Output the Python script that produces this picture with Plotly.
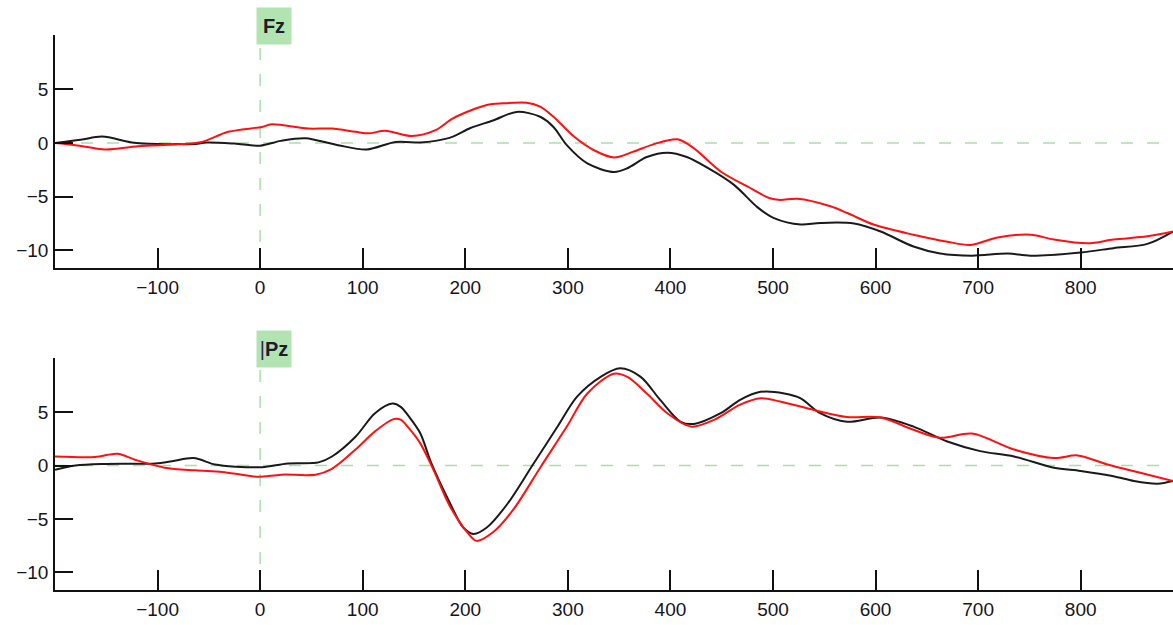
import plotly.graph_objects as go

# ---- Data (time in ms, amplitude in µV) ----
fz_black_t = [-200, -175, -154, -125, -100, -80, -63, -52, -25, 0, 20, 44, 76, 104, 132, 156, 171, 188, 205, 227, 250,
              273, 286, 299, 319, 345, 358, 377, 397, 416, 436, 462, 485, 501, 527, 546, 579, 605, 637, 663, 694, 729,
              751, 800, 832, 865, 890]
fz_black_v = [0, 0.3, 0.6, 0.05, -0.1, -0.1, -0.1, 0.05, -0.05, -0.25, 0.2, 0.45, -0.2, -0.6, 0.1, 0.05, 0.2, 0.6,
              1.4, 2.1, 2.9, 2.45, 1.5, -0.2, -1.9, -2.7, -2.35, -1.3, -0.9, -1.3, -2.3, -3.9, -6.0, -7.0, -7.6, -7.45,
              -7.5, -8.25, -9.65, -10.3, -10.5, -10.3, -10.5, -10.2, -9.8, -9.4, -8.25]

fz_red_t = [-200, -180, -151, -119, -76, -57, -31, 2, 11, 47, 70, 93, 106, 122, 148, 171, 188, 221, 237, 260, 273,
            286, 306, 325, 345, 364, 384, 407, 423, 449, 475, 497, 507, 524, 556, 573, 598, 637, 670, 693, 719, 751,
            774, 807, 832, 865, 890]
fz_red_v = [0, -0.2, -0.6, -0.3, -0.1, 0.1, 1.05, 1.5, 1.75, 1.35, 1.35, 1.05, 0.9, 1.15, 0.65, 1.2, 2.3, 3.55, 3.7,
            3.75, 3.4, 2.45, 0.6, -0.65, -1.35, -0.8, -0.1, 0.35, -0.5, -2.65, -4.05, -5.15, -5.3, -5.2, -5.9, -6.55,
            -7.6, -8.55, -9.2, -9.5, -8.8, -8.55, -9.0, -9.35, -9.0, -8.7, -8.25]

pz_black_t = [-200, -180, -151, -102, -86, -65, -44, -24, 2, 27, 57, 70, 93, 112, 129, 137, 145, 156, 167, 185, 198,
              208, 221, 241, 266, 290, 309, 332, 351, 371, 390, 410, 423, 449, 468, 488, 511, 527, 546, 572, 605, 637,
              670, 702, 735, 774, 800, 832, 852, 875, 890]
pz_black_v = [-0.4, 0, 0.15, 0.2, 0.4, 0.7, 0.1, -0.1, -0.15, 0.2, 0.3, 0.85, 2.7, 4.9, 5.8, 5.5, 4.6, 3.05, 0.2,
              -3.5, -5.8, -6.4, -5.8, -3.6, 0.1, 3.65, 6.45, 8.3, 9.1, 8.3, 6.15, 4.1, 3.9, 4.9, 6.15, 6.9, 6.75, 6.3,
              4.9, 4.1, 4.5, 3.65, 2.25, 1.35, 0.85, -0.2, -0.5, -1.0, -1.45, -1.7, -1.45]

pz_red_t = [-200, -161, -139, -122, -93, -63, -37, -18, -2, 21, 54, 70, 93, 112, 130, 137, 145, 156, 169, 185, 202,
            211, 227, 247, 273, 299, 319, 345, 358, 377, 397, 420, 443, 468, 488, 507, 540, 572, 605, 637, 663, 694,
            735, 774, 797, 826, 859, 890]
pz_red_v = [0.85, 0.8, 1.1, 0.55, -0.2, -0.45, -0.6, -0.85, -1.05, -0.85, -0.85, -0.3, 1.5, 3.2, 4.35, 4.3, 3.5, 2.1,
            -0.4, -3.8, -6.25, -7.05, -6.25, -4.1, -0.2, 3.65, 6.75, 8.6, 8.3, 6.75, 4.9, 3.65, 4.3, 5.7, 6.3, 6.0,
            5.2, 4.55, 4.5, 3.35, 2.6, 3.0, 1.5, 0.7, 0.95, 0.1, -0.7, -1.45]

x_ticks = [-100, 0, 100, 200, 300, 400, 500, 600, 700, 800]
y_ticks = [-10, -5, 0, 5]
channels = ["Fz", "Pz"]

X_RANGE = [-200, 890]
Y_RANGE = [-11.65, 10.07]

BLACK = "#1a1a1a"
RED = "#ff1010"
GREEN = "#a9dfa9"
BOX = "#b2e4b2"

H = 625
top_dom = [1 - 268 / H, 1 - 35 / H]
bot_dom = [1 - 590 / H, 1 - 358 / H]

fig = go.Figure()

panels = [
    ("x", "y", fz_black_t, fz_black_v, fz_red_t, fz_red_v),
    ("x2", "y2", pz_black_t, pz_black_v, pz_red_t, pz_red_v),
]
for xa, ya, bt, bv, rt, rv in panels:
    fig.add_trace(go.Scatter(x=bt, y=bv, mode="lines", xaxis=xa, yaxis=ya,
                             line=dict(color=BLACK, width=2, shape="spline", smoothing=0.9),
                             showlegend=False, hoverinfo="skip"))
    fig.add_trace(go.Scatter(x=rt, y=rv, mode="lines", xaxis=xa, yaxis=ya,
                             line=dict(color=RED, width=2, shape="spline", smoothing=0.9),
                             showlegend=False, hoverinfo="skip"))

tickfont = dict(family="Liberation Sans, Arial, sans-serif", size=19, color="#151520")

xcommon = dict(range=X_RANGE, tickmode="array", tickvals=x_ticks, ticks="inside", ticklen=20, tickwidth=1.5,
               tickcolor="#111", showline=True, linecolor="#111", linewidth=1.5, showgrid=False, zeroline=False,
               tickfont=tickfont, ticklabelstandoff=1, fixedrange=True)
ycommon = dict(range=Y_RANGE, tickmode="array", tickvals=y_ticks, ticks="inside", ticklen=18, tickwidth=1.5,
               tickcolor="#111", showline=True, linecolor="#111", linewidth=1.5, showgrid=False, zeroline=False,
               tickfont=tickfont, ticklabelstandoff=1, fixedrange=True)

fig.update_layout(
    width=1173, height=625,
    margin=dict(l=55, r=0, t=0, b=0, autoexpand=False),
    paper_bgcolor="white", plot_bgcolor="white",
    xaxis=dict(domain=[0, 1], anchor="y", **xcommon),
    yaxis=dict(domain=top_dom, anchor="x", **ycommon),
    xaxis2=dict(domain=[0, 1], anchor="y2", **xcommon),
    yaxis2=dict(domain=bot_dom, anchor="x2", **ycommon),
)

dash = "12px,14px"
for xa, ya, vtop in [("x", "y", (268 - 43) / 233), ("x2", "y2", (590 - 367) / 232)]:
    fig.add_shape(type="line", xref=xa, yref=ya, x0=X_RANGE[0], x1=X_RANGE[1], y0=0, y1=0,
                  line=dict(color=GREEN, width=1.5, dash=dash), layer="below")
    fig.add_shape(type="line", xref=xa, yref=ya + " domain", x0=0, x1=0, y0=0, y1=vtop,
                  line=dict(color=GREEN, width=1.5, dash=dash), layer="below")

labels = ["<b>" + channels[0] + "</b>",
          "<span style='color:#3a1a5a'>|</span><b>" + channels[1] + "</b>"]
for txt, xa, ya, yc in [(labels[0], "x", "y", (268 - 25.5) / 233), (labels[1], "x2", "y2", (590 - 348.5) / 232)]:
    fig.add_annotation(text=txt, xref=xa, yref=ya + " domain", x=0, y=yc,
                       xanchor="left", yanchor="middle", xshift=-4, showarrow=False,
                       width=34, height=36, bgcolor=BOX, borderpad=0,
                       font=dict(family="Liberation Sans, Arial, sans-serif", size=20, color="#1c1c2c"))

fig.write_html("out.html", config={"displayModeBar": False},
               post_script="document.body.style.margin='0';")
